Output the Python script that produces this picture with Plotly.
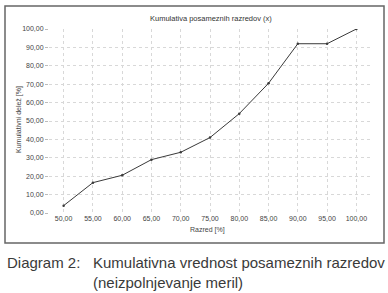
import plotly.graph_objects as go

razred = [50, 55, 60, 65, 70, 75, 80, 85, 90, 95, 100]
kumulativa = [4, 16.5, 20.5, 29, 33, 41, 54, 70.5, 92, 92, 100]
y_ticks = [0, 10, 20, 30, 40, 50, 60, 70, 80, 90, 100]

W, H = 388, 293
L, R, T, B = 49, 17, 29, 80
pw, ph = W - L - R, H - T - B

def px(x):
    return (x - L) / pw

def py(y):
    return (H - B - y) / ph

fig = go.Figure()
fig.add_trace(go.Scatter(
    x=razred, y=kumulativa, mode="lines+markers",
    line=dict(color="#3a3a3a", width=1),
    marker=dict(size=2.5, color="#3a3a3a"),
    showlegend=False, hoverinfo="skip"))

font_family = "Liberation Sans, Arial, sans-serif"
cap = dict(size=15, color="#3a3a3a")
fig.update_layout(
    width=W, height=H,
    margin=dict(l=L, r=R, t=T, b=B),
    paper_bgcolor="white", plot_bgcolor="white",
    separators=",.",
    font=dict(family=font_family, color="#444"),
    xaxis=dict(range=[47.5, 102.5], tickvals=razred, tickformat=".2f",
               tickfont=dict(size=7, color="#444"), showgrid=True,
               gridcolor="#d8d8d8", griddash="dot", gridwidth=1,
               zeroline=False, showline=False, ticks=""),
    yaxis=dict(range=[0, 100], tickvals=y_ticks, tickformat=".2f",
               tickfont=dict(size=7, color="#444"), showgrid=True,
               gridcolor="#d8d8d8", griddash="dot", gridwidth=1,
               zeroline=False, showline=False, ticks="outside",
               ticklen=3, tickcolor="#bbb"),
    shapes=[dict(type="rect", xref="paper", yref="paper",
                 x0=px(5), x1=px(384), y0=py(243), y1=py(6),
                 line=dict(color="#666", width=1.5), fillcolor="rgba(0,0,0,0)",
                 layer="below")],
    annotations=[
        dict(text="Kumulativa posameznih razredov (x)", xref="paper", yref="paper",
             x=px(211), y=py(19), showarrow=False, font=dict(size=7.5, color="#333"),
             xanchor="center", yanchor="middle"),
        dict(text="Kumulativni delež [%]", xref="paper", yref="paper",
             x=px(19), y=py(120), showarrow=False, textangle=-90,
             font=dict(size=7, color="#444"), xanchor="center", yanchor="middle"),
        dict(text="Razred [%]", xref="paper", yref="paper",
             x=px(207), y=py(230), showarrow=False,
             font=dict(size=7, color="#444"), xanchor="center", yanchor="middle"),
        dict(text="Diagram 2:", xref="paper", yref="paper", x=px(5), y=py(262),
             showarrow=False, font=cap, xanchor="left", yanchor="middle"),
        dict(text="Kumulativna vrednost posameznih razredov",
             xref="paper", yref="paper", x=px(91), y=py(262), showarrow=False,
             font=cap, xanchor="left", yanchor="middle"),
        dict(text="(neizpolnjevanje meril)",
             xref="paper", yref="paper", x=px(91), y=py(282), showarrow=False,
             font=cap, xanchor="left", yanchor="middle"),
    ],
)

fig.write_html("out.html")
